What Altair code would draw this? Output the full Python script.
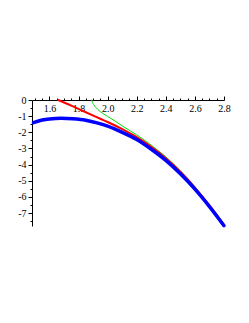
import altair as alt
import pandas as pd

# Thick blue curve
blue_x = [1.49, 1.55, 1.60, 1.68, 1.76, 1.85, 1.92, 2.00, 2.10, 2.20, 2.30, 2.40, 2.50, 2.60, 2.70, 2.80]
blue_y = [-1.40, -1.24, -1.17, -1.13, -1.16, -1.25, -1.40, -1.62, -2.00, -2.45, -3.05, -3.74, -4.57, -5.52, -6.60, -7.78]

# Red curve
red_x = [1.66, 1.75, 1.85, 1.95, 2.00, 2.10, 2.20, 2.30, 2.40, 2.50, 2.60, 2.70, 2.80]
red_y = [0.0, -0.35, -0.76, -1.16, -1.36, -1.80, -2.30, -2.90, -3.60, -4.44, -5.42, -6.53, -7.75]

# Thin green curve
green_x = [1.89, 1.895, 1.905, 1.92, 1.95, 2.00, 2.05, 2.10, 2.20, 2.30, 2.40, 2.50, 2.60, 2.70, 2.80]
green_y = [0.0, -0.15, -0.30, -0.47, -0.72, -1.02, -1.30, -1.60, -2.16, -2.80, -3.52, -4.38, -5.37, -6.50, -7.73]

# Axis ticks (major and minor)
x_ticks = [1.5, 1.55, 1.6, 1.65, 1.7, 1.75, 1.8, 1.85, 1.9, 1.95, 2.0, 2.05, 2.1, 2.15, 2.2,
           2.25, 2.3, 2.35, 2.4, 2.45, 2.5, 2.55, 2.6, 2.65, 2.7, 2.75, 2.8]
y_ticks = [0, -0.5, -1, -1.5, -2, -2.5, -3, -3.5, -4, -4.5, -5, -5.5, -6, -6.5, -7, -7.5]

X_DOMAIN = [1.48, 2.8]
Y_DOMAIN = [-7.8, 0]

FONT = "Liberation Serif"

x_major = "abs(datum.value*5 - round(datum.value*5)) < 0.001"
y_major = "abs(datum.value - round(datum.value)) < 0.001"

x_axis = alt.Axis(
    orient="top", values=x_ticks, grid=False, title=None,
    labelExpr=f"({x_major}) ? format(datum.value, '.1f') : ''",
    tickSize={"condition": {"test": x_major, "value": 4}, "value": 2},
    labelBaseline="top", labelPadding=-7, labelAngle=0,
    labelFont=FONT, labelFontSize=10, labelColor="black",
    domainColor="black", tickColor="black", labelFlush=False, labelOverlap=False,
)
y_axis = alt.Axis(
    orient="left", values=y_ticks, grid=False, title=None,
    labelExpr=f"({y_major}) ? '' + datum.value : ''",
    tickSize={"condition": {"test": y_major, "value": 4}, "value": 2},
    labelPadding=2, labelFont=FONT, labelFontSize=10, labelColor="black",
    domainColor="black", tickColor="black", labelFlush=False, labelOverlap=False,
)

xs = alt.Scale(domain=X_DOMAIN, nice=False, zero=False)
ys = alt.Scale(domain=Y_DOMAIN, nice=False, zero=False)


def layer(xv, yv, color, width):
    df = pd.DataFrame({"x": xv, "y": yv})
    return alt.Chart(df).mark_line(
        color=color, strokeWidth=width, interpolate="monotone", strokeCap="round"
    ).encode(
        x=alt.X("x:Q", scale=xs, axis=x_axis),
        y=alt.Y("y:Q", scale=ys, axis=y_axis),
    )


chart = alt.layer(
    layer(green_x, green_y, "#00dd00", 1),
    layer(red_x, red_y, "#ff0000", 2),
    layer(blue_x, blue_y, "#0000ff", 3.5),
).properties(
    width=192, height=126,
    autosize=alt.AutoSizeParams(type="none"),
    padding={"left": 24, "top": 92, "right": 16, "bottom": 80},
).configure(background="white").configure_view(stroke=None)

chart.save("out.html", embed_options={"renderer": "svg", "actions": False})
